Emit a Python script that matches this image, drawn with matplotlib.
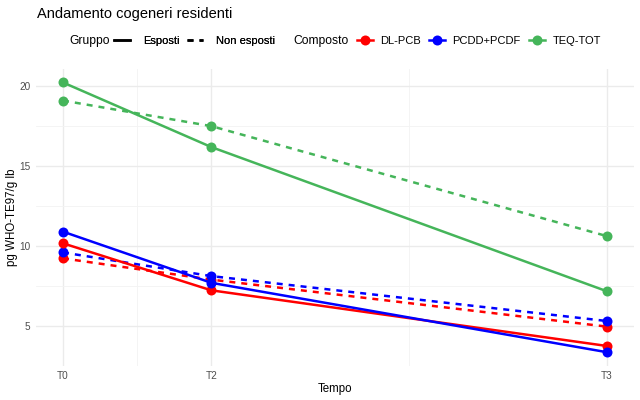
import matplotlib
matplotlib.use("Agg")
import matplotlib.pyplot as plt
from matplotlib.lines import Line2D

plt.rcParams['font.family'] = ['Liberation Sans', 'DejaVu Sans']

# tempo (numeric position) and labels
tempo = [0, 3, 11]
tempo_labels = ['T0', 'T2', 'T3']

# values: pg WHO-TE97/g lb
dlpcb_esposti = [10.17, 7.23, 3.75]
dlpcb_non_esposti = [9.23, 7.9, 4.96]
pcdd_esposti = [10.9, 7.7, 3.36]
pcdd_non_esposti = [9.6, 8.12, 5.31]
teq_esposti = [20.23, 16.19, 7.17]
teq_non_esposti = [19.1, 17.5, 10.62]

composti = ['DL-PCB', 'PCDD+PCDF', 'TEQ-TOT']
colori = ['#FF0000', '#0000FF', '#45B55A']
series = [
    (dlpcb_esposti, dlpcb_non_esposti),
    (pcdd_esposti, pcdd_non_esposti),
    (teq_esposti, teq_non_esposti),
]

fig = plt.figure(figsize=(6.4, 4.0), dpi=100)
ax = fig.add_axes([35.8/640, 1-365.7/400, (634.2-35.8)/640, (365.7-69)/400])

lw = 1.8
dash = (2.4, 2.4)
for (esp, non_esp), col in zip(series, colori):
    ax.plot(tempo, non_esp, color=col, lw=lw, linestyle=(0, dash), marker='o',
            markersize=7.2, markeredgewidth=0, zorder=3)
    ax.plot(tempo, esp, color=col, lw=lw, marker='o', markersize=7.2,
            markeredgewidth=0, zorder=4)

ax.margins(x=0.05, y=0.05)
ax.set_xticks(tempo)
ax.set_xticklabels(tempo_labels)
ax.set_xticks([1.5, 7], minor=True)
ax.set_yticks([5, 10, 15, 20])
ax.set_yticks([7.5, 12.5, 17.5], minor=True)
ax.grid(which='major', color='#EBEBEB', lw=1.0)
ax.grid(which='minor', color='#F3F3F3', lw=0.6)
ax.set_axisbelow(True)
for s in ax.spines.values():
    s.set_visible(False)
ax.tick_params(which='both', length=0, labelsize=7.2, labelcolor='#4D4D4D', pad=4)

ax.set_xlabel('Tempo', fontsize=8.3, labelpad=1.5)
ax.set_ylabel('pg WHO-TE97/g lb', fontsize=8.3, labelpad=1)

fig.text(37/640, 1-14/400, 'Andamento cogeneri residenti', fontsize=10.5, va='center')

# legends
fs = 8.0
fs_title = 8.7
ly = 1 - 41/400
fig.text(69/640, ly, 'Gruppo', fontsize=fs_title, va='center')
h_gruppo = [Line2D([], [], color='black', lw=lw),
            Line2D([], [], color='black', lw=lw, linestyle=(0, dash))]
leg1 = fig.legend(h_gruppo, ['Esposti', 'Non esposti'], loc='center left',
                  bbox_to_anchor=(114/640, ly), ncol=2, frameon=False, fontsize=fs,
                  handlelength=1.44, handletextpad=1.17, columnspacing=0.63,
                  borderpad=0, borderaxespad=0)
fig.text(293/640, ly, 'Composto', fontsize=fs_title, va='center')
h_comp = [Line2D([], [], color=c, lw=lw, marker='o', markersize=7.2,
                 markeredgewidth=0) for c in colori]
fig.legend(h_comp, composti, loc='center left', bbox_to_anchor=(357/640, ly),
           ncol=3, frameon=False, fontsize=fs, handlelength=1.44, handletextpad=0.65,
           columnspacing=0.75, borderpad=0, borderaxespad=0)
fig.add_artist(leg1)

fig.savefig('out.png', dpi=100, facecolor='white')
